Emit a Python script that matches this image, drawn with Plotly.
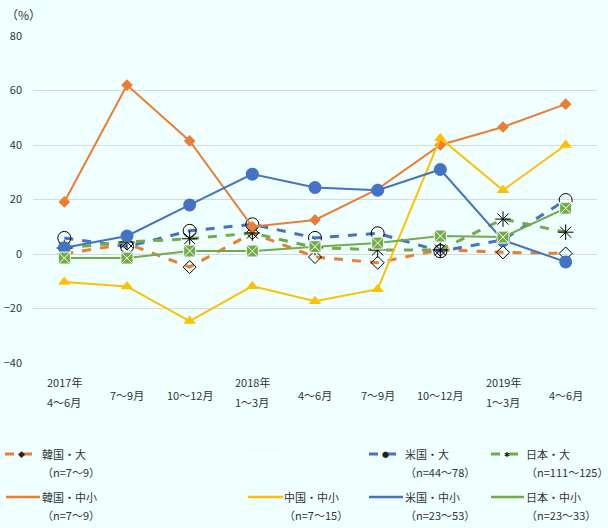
import plotly.graph_objects as go

# 四半期ラベル
years = ["2017年", "", "", "2018年", "", "", "", "2019年", ""]
quarters = ["4～6月", "7～9月", "10～12月", "1～3月", "4～6月", "7～9月", "10～12月", "1～3月", "4～6月"]
x_idx = list(range(len(quarters)))

# 大企業 (%)
kr_large = [0, 3.8, -4.8, 7.7, -1.1, -3.2, 1.6, 0.6, 0.2]
us_large = [5.9, 2.7, 8.5, 10.9, 5.9, 7.6, 1.0, 5.2, 19.8]
jp_large = [2.2, 4.4, 5.6, 7.7, 2.4, 1.5, 1.5, 12.8, 8.0]

# 中小企業 (%)
kr_sme = [19.1, 62.0, 41.5, 10.0, 12.5, 23.8, 40.0, 46.6, 55.0]
cn_sme = [-10.3, -11.9, -24.6, -11.8, -17.3, -12.9, 42.5, 23.4, 40.0]
us_sme = [2.3, 6.6, 18.0, 29.3, 24.4, 23.4, 31.0, 5.1, -2.9]
jp_sme = [-1.5, -1.5, 1.1, 1.1, 2.7, 4.0, 6.6, 6.2, 16.8]

ORANGE = "#ED7D31"
YELLOW = "#FFC000"
BLUE = "#4472C4"
GREEN = "#70AD47"
BG = "#F0FFFF"
TXT = "#333333"
FONT = "Noto Sans CJK JP"

W, H = 608, 528
L, R, T, B = 33, 597, 36, 363


def px(xp):
    return (xp - L) / (R - L)


def py(yp):
    return (B - yp) / (B - T)


fig = go.Figure()

# 大企業: 破線 + 黒の白抜きマーカー
for vals, col, sym, size in [
    (kr_large, ORANGE, "diamond-open", 10),
    (us_large, BLUE, "circle-open", 13),
    (jp_large, GREEN, "asterisk-open", 13),
]:
    fig.add_trace(go.Scatter(
        x=x_idx, y=vals, mode="lines+markers",
        line=dict(color=col, width=3, dash="dash"),
        marker=dict(symbol=sym, size=size, color="black", line=dict(width=1, color="black")),
        showlegend=False,
    ))

# 中小企業: 実線
fig.add_trace(go.Scatter(
    x=x_idx, y=kr_sme, mode="lines+markers",
    line=dict(color=ORANGE, width=2),
    marker=dict(symbol="diamond", size=9, color=ORANGE),
    showlegend=False,
))
fig.add_trace(go.Scatter(
    x=x_idx, y=cn_sme, mode="lines+markers",
    line=dict(color=YELLOW, width=2),
    marker=dict(symbol="triangle-up", size=11, color=YELLOW),
    showlegend=False,
))
fig.add_trace(go.Scatter(
    x=x_idx, y=us_sme, mode="lines+markers",
    line=dict(color=BLUE, width=2),
    marker=dict(symbol="circle", size=13, color=BLUE),
    showlegend=False,
))
fig.add_trace(go.Scatter(
    x=x_idx, y=jp_sme, mode="lines+markers",
    line=dict(color=GREEN, width=2),
    marker=dict(symbol="square-x", size=12, color=GREEN, line=dict(width=1, color="white")),
    showlegend=False,
))

annotations = []
# x軸ラベル
for i, (yr, q) in enumerate(zip(years, quarters)):
    if yr:
        annotations.append(dict(x=i, xref="x", y=py(382), yref="paper", text=yr,
                                showarrow=False, xanchor="center", yanchor="middle"))
        annotations.append(dict(x=i, xref="x", y=py(402), yref="paper", text=q,
                                showarrow=False, xanchor="center", yanchor="middle"))
    else:
        annotations.append(dict(x=i, xref="x", y=py(395), yref="paper", text=q,
                                showarrow=False, xanchor="center", yanchor="middle"))

annotations.append(dict(x=px(4), y=py(14), xref="paper", yref="paper", text="（%）",
                        showarrow=False, xanchor="left", yanchor="middle",
                        font=dict(size=12)))

# 凡例 (手描き)
legend_items = [
    ("韓国・大", "（n=7～9）", ORANGE, "dash", (5, 37), 40, 454),
    ("", "", "white", "solid", (248, 283), 283, 454),
    ("米国・大", "（n=44～78）", BLUE, "dash", (369, 401), 403, 454),
    ("日本・大", "（n=111～125）", GREEN, "dash", (491, 522), 524, 454),
    ("韓国・中小", "（n=7～9）", ORANGE, "solid", (6, 40), 40, 497),
    ("中国・中小", "（n=7～15）", YELLOW, "solid", (248, 283), 282, 497),
    ("米国・中小", "（n=23～53）", BLUE, "solid", (369, 403), 403, 497),
    ("日本・中小", "（n=23～33）", GREEN, "solid", (491, 524), 524, 497),
]
shapes = []
for name, n, col, dash, (x0, x1), tx, ty in legend_items:
    shapes.append(dict(type="line", xref="paper", yref="paper",
                       x0=px(x0), x1=px(x1), y0=py(ty), y1=py(ty),
                       line=dict(color=col, width=3 if dash == "dash" else 2.5, dash=dash)))
    if name:
        annotations.append(dict(x=px(tx), y=py(ty), xref="paper", yref="paper", text=name,
                                showarrow=False, xanchor="left", yanchor="middle"))
        annotations.append(dict(x=px(tx), y=py(ty + 17.5), xref="paper", yref="paper", text=n,
                                showarrow=False, xanchor="left", yanchor="middle"))

# 凡例の小さなマーカー
mk = [(21, 454, "◆"), (385, 454, "●"), (507, 454, "✱")]
for mx, my, ch in mk:
    annotations.append(dict(x=px(mx), y=py(my), xref="paper", yref="paper", text=ch,
                            showarrow=False, xanchor="center", yanchor="middle",
                            font=dict(size=7, color="#222")))

fig.update_layout(
    width=W, height=H,
    margin=dict(l=L, r=W - R, t=T, b=H - B),
    paper_bgcolor=BG, plot_bgcolor=BG,
    font=dict(family=FONT, size=11, color=TXT),
    xaxis=dict(range=[-0.5, 8.5], showticklabels=False, showgrid=False,
               zeroline=False, showline=False, ticks="", automargin=False),
    yaxis=dict(range=[-40, 80], tickvals=[-40, -20, 0, 20, 40, 60, 80],
               showgrid=True, gridcolor="#D9D9D9", gridwidth=1, zeroline=False,
               showline=False, ticks="", ticklabelstandoff=10, automargin=False,
               tickfont=dict(size=11, color=TXT)),
    annotations=annotations,
    shapes=shapes,
    showlegend=False,
)

# ページの余白を消して図を左上に合わせる
fig.write_html("out.html", config={"displayModeBar": False},
               post_script="document.body.style.margin='0';")
